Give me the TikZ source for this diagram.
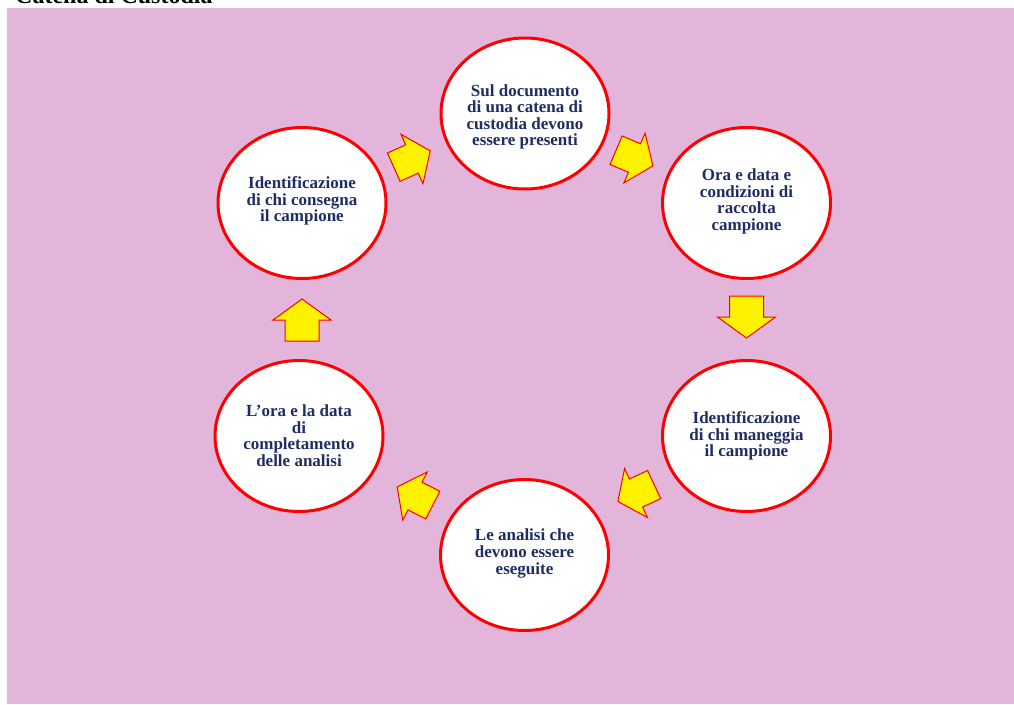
\documentclass[tikz,border=0pt]{standalone}
\usepackage{fontspec}
\setmainfont{Liberation Serif}
\usetikzlibrary{shapes.geometric}
\definecolor{bgpink}{RGB}{228,181,219}
\definecolor{navy}{RGB}{30,45,100}
\tikzset{
  circ/.style={ellipse, draw=red, line width=3pt, fill=white, minimum width=168pt, minimum height=151pt, inner sep=0pt},
  txt/.style={align=center, text=navy, font=\bfseries\fontsize{17}{16.6}\selectfont, inner sep=0pt},
  blockarrow/.style={fill=yellow, draw=red, line width=1pt, line join=miter},
  pics/barrow/.style args={#1/#2/#3/#4}{code={
    \draw[blockarrow] (-#1/2,-#3/2) -- (#1/2-#2,-#3/2) -- (#1/2-#2,-#4/2) -- (#1/2,0)
      -- (#1/2-#2,#4/2) -- (#1/2-#2,#3/2) -- (-#1/2,#3/2) -- cycle;
  }}
}
\begin{document}
\begin{tikzpicture}[x=1pt,y=-1pt]
\useasboundingbox (0,0) rectangle (1014,704);
\clip (0,0) rectangle (1014,704);
\fill[bgpink] (7,7.5) rectangle (1014,704);
\node[anchor=base west, font=\bfseries\fontsize{24}{24}\selectfont, inner sep=0pt] (title) at (15,4) {Catena di Custodia};

\node[circ] (c1) at (525,113.5) {};
\node[circ] (c2) at (746.5,203) {};
\node[circ] (c3) at (746.5,436) {};
\node[circ] (c4) at (524.5,555) {};
\node[circ] (c5) at (299,436) {};
\node[circ] (c6) at (302,203) {};

\node[txt] (t1) at (525,117) {Sul documento\\di una catena di\\custodia devono\\essere presenti};
\node[txt] (t2) at (746.5,201.5) {Ora e data e\\condizioni di\\raccolta\\campione};
\node[txt] (t3) at (746.5,436) {Identificazione\\di chi maneggia\\il campione};
\node[txt] (t4) at (524.5,553.5) {Le analisi che\\devono essere\\eseguite};
\node[txt] (t5) at (299,435.5) {L’ora e la data\\di\\completamento\\delle analisi};
\node[txt] (t6) at (302,201) {Identificazione\\di chi consegna\\il campione};

\pic[rotate=24] (a1) at (412,159) {barrow=40/20/31/54};
\pic[rotate=-23] (a2) at (634.5,158) {barrow=40/20/31/54};
\pic[rotate=-90] (a3) at (746.5,317) {barrow=42/21/34/58};
\pic[rotate=205] (a4) at (636,493) {barrow=40/20/31/54};
\pic[rotate=153] (a5) at (415,496) {barrow=40/20/31/54};
\pic[rotate=90] (a6) at (302,320) {barrow=42/21/34/58};
\end{tikzpicture}
\end{document}
